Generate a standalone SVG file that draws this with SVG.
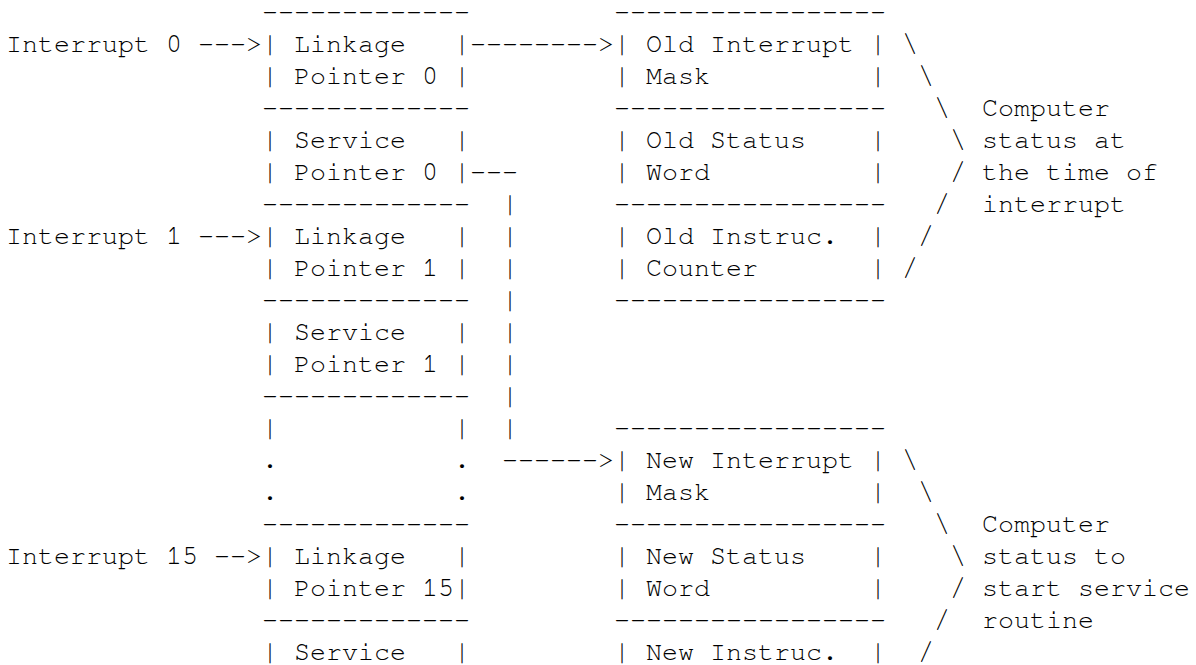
<svg xmlns="http://www.w3.org/2000/svg" width="1196" height="665" viewBox="0 0 1196 665" xml:space="preserve">
<style>
text { font-family: "Nimbus Mono PS", "FreeMono", "Courier New", "Liberation Mono", monospace; font-size: 26.667px; fill: #000; white-space: pre; }
</style>
<rect x="0" y="0" width="1196" height="665" fill="#fff"/>
<g id="interrupt-labels">
<text x="6" y="52">Interrupt 0</text>
<text x="6" y="244">Interrupt 1</text>
<text x="6" y="564">Interrupt 15</text>
</g>
<g id="linkage-pointer-0">
<text x="262" y="20">-------------</text>
<text x="262" y="52">| Linkage   |</text>
<text x="262" y="84">| Pointer 0 |</text>
</g>
<g id="service-pointer-0">
<text x="262" y="116">-------------</text>
<text x="262" y="148">| Service   |</text>
<text x="262" y="180">| Pointer 0 |</text>
</g>
<g id="linkage-pointer-1">
<text x="262" y="212">-------------</text>
<text x="262" y="244">| Linkage   |</text>
<text x="262" y="276">| Pointer 1 |</text>
</g>
<g id="service-pointer-1">
<text x="262" y="308">-------------</text>
<text x="262" y="340">| Service   |</text>
<text x="262" y="372">| Pointer 1 |</text>
</g>
<g id="ellipsis-pointers">
<text x="262" y="404">-------------</text>
<text x="262" y="436">|           |</text>
<text x="262" y="468">.           .</text>
<text x="262" y="500">.           .</text>
</g>
<g id="linkage-pointer-15">
<text x="262" y="532">-------------</text>
<text x="262" y="564">| Linkage   |</text>
<text x="262" y="596">| Pointer 15|</text>
</g>
<g id="service-pointer-15">
<text x="262" y="628">-------------</text>
<text x="262" y="660">| Service   |</text>
</g>
<g id="old-interrupt-mask">
<text x="614" y="20">-----------------</text>
<text x="614" y="52">| Old Interrupt |</text>
<text x="614" y="84">| Mask          |</text>
</g>
<g id="old-status-word">
<text x="614" y="116">-----------------</text>
<text x="614" y="148">| Old Status    |</text>
<text x="614" y="180">| Word          |</text>
</g>
<g id="old-instruction-counter">
<text x="614" y="212">-----------------</text>
<text x="614" y="244">| Old Instruc.  |</text>
<text x="614" y="276">| Counter       |</text>
<text x="614" y="308">-----------------</text>
</g>
<g id="new-interrupt-mask">
<text x="614" y="436">-----------------</text>
<text x="614" y="468">| New Interrupt |</text>
<text x="614" y="500">| Mask          |</text>
</g>
<g id="new-status-word">
<text x="614" y="532">-----------------</text>
<text x="614" y="564">| New Status    |</text>
<text x="614" y="596">| Word          |</text>
</g>
<g id="new-instruction-counter">
<text x="614" y="628">-----------------</text>
<text x="614" y="660">| New Instruc.  |</text>
</g>
<g id="old-status-brace">
<text x="902" y="52">\</text>
<text x="918" y="84">\</text>
<text x="934" y="116">\</text>
<text x="950" y="148">\</text>
<text x="950" y="180">/</text>
<text x="934" y="212">/</text>
<text x="918" y="244">/</text>
<text x="902" y="276">/</text>
<text x="982" y="116">Computer</text>
<text x="982" y="148">status at</text>
<text x="982" y="180">the time of</text>
<text x="982" y="212">interrupt</text>
</g>
<g id="new-status-brace">
<text x="902" y="468">\</text>
<text x="918" y="500">\</text>
<text x="934" y="532">\</text>
<text x="950" y="564">\</text>
<text x="950" y="596">/</text>
<text x="934" y="628">/</text>
<text x="918" y="660">/</text>
<text x="982" y="532">Computer</text>
<text x="982" y="564">status to</text>
<text x="982" y="596">start service</text>
<text x="982" y="628">routine</text>
</g>
<g id="connectors">
<text x="198" y="52">---&gt;</text>
<text x="198" y="244">---&gt;</text>
<text x="214" y="564">--&gt;</text>
<text x="470" y="52">--------&gt;</text>
<text x="470" y="180">---</text>
<text x="502" y="212">|</text>
<text x="502" y="244">|</text>
<text x="502" y="276">|</text>
<text x="502" y="308">|</text>
<text x="502" y="340">|</text>
<text x="502" y="372">|</text>
<text x="502" y="404">|</text>
<text x="502" y="436">|</text>
<text x="502" y="468">------&gt;</text>
</g>
</svg>
